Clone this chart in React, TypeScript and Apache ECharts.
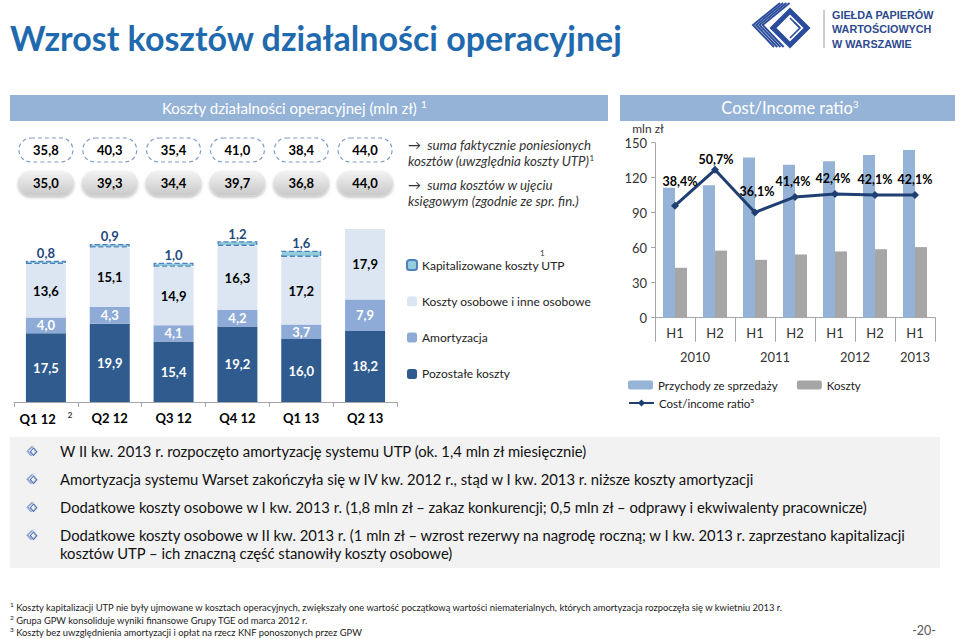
import React, { useEffect, useRef } from 'react';
import * as echarts from 'echarts';

// ---------- data ----------
const quarters = ['Q1 12', 'Q2 12', 'Q3 12', 'Q4 12', 'Q1 13', 'Q2 13'];
const pozostale = [17.5, 19.9, 15.4, 19.2, 16.0, 18.2];
const amortyzacja = [4.0, 4.3, 4.1, 4.2, 3.7, 7.9];
const osobowe = [13.6, 15.1, 14.9, 16.3, 17.2, 17.9];
const utp = [0.8, 0.9, 1.0, 1.2, 1.6, 0];
const sumaFaktyczna = [35.8, 40.3, 35.4, 41.0, 38.4, 44.0];
const sumaKsiegowa = [35.0, 39.3, 34.4, 39.7, 36.8, 44.0];

const halves = ['H1', 'H2', 'H1', 'H2', 'H1', 'H2', 'H1'];
const years = ['2010', '2011', '2012', '2013'];
const yearSpans = [2, 2, 2, 1];
const przychody = [111.4, 113.5, 137.4, 131.0, 134.0, 139.5, 143.8];
const koszty = [42.8, 57.5, 49.6, 54.2, 56.8, 58.7, 60.5];
const ratio = [38.4, 50.7, 36.1, 41.4, 42.4, 42.1, 42.1];
const ratioLabelOffsets = [[5, -9], [1, 5], [2, -5], [-2, 0], [-2, 0], [0, 0], [0, 0]];

const bullets = [
  'W II kw. 2013 r. rozpoczęto amortyzację systemu UTP (ok. 1,4 mln zł miesięcznie)',
  'Amortyzacja systemu Warset zakończyła się w IV kw. 2012 r., stąd w I kw. 2013 r. niższe koszty amortyzacji',
  'Dodatkowe koszty osobowe w I kw. 2013 r. (1,8 mln zł – zakaz konkurencji; 0,5 mln zł – odprawy i ekwiwalenty pracownicze)',
  'Dodatkowe koszty osobowe w II kw. 2013 r. (1 mln zł – wzrost rezerwy na nagrodę roczną; w I kw. 2013 r. zaprzestano kapitalizacji\nkosztów UTP – ich znaczną część stanowiły koszty osobowe)',
];
const footnotes = [
  ['1', 'Koszty kapitalizacji UTP nie były ujmowane w kosztach operacyjnych, zwiększały one wartość początkową wartości niematerialnych, których amortyzacja rozpoczęła się w kwietniu 2013 r.'],
  ['2', 'Grupa GPW konsoliduje wyniki finansowe Grupy TGE od marca 2012 r.'],
  ['3', 'Koszty bez uwzględnienia amortyzacji i opłat na rzecz KNF ponoszonych przez GPW'],
];

const FONT = 'Lato, "Noto Sans", sans-serif';
const fmt1 = (v: number) => v.toFixed(1).replace('.', ',');

const yearBounds: number[] = [0];
yearSpans.forEach((s) => yearBounds.push(yearBounds[yearBounds.length - 1] + s));
const yearCenters = yearSpans.map((s, i) => yearBounds[i] + s / 2);

function logoChildren(color: string) {
  const ch: any[] = [];
  for (let k = 0; k < 4; k++) {
    ch.push({
      type: 'polyline',
      shape: { points: [[30 + 3.2 * k, 1], [3 + 3.2 * k, 23], [24 + 3.2 * k, 45]] },
      style: { stroke: color, lineWidth: 1.9, fill: 'none' },
    });
  }
  ch.push({
    type: 'polygon',
    shape: { points: [[40, 9], [57, 26], [40, 43], [23, 26]] },
    style: { stroke: color, lineWidth: 5, fill: 'none' },
  });
  ch.push({
    type: 'polyline',
    shape: { points: [[40, 16], [50, 26], [40, 36]] },
    style: { stroke: color, lineWidth: 1.6, fill: 'none' },
  });
  ch.push({
    type: 'polyline',
    shape: { points: [[44, 20], [50, 26]] },
    style: { stroke: color, lineWidth: 1.4, fill: 'none' },
  });
  return ch;
}

export default function App() {
  const ref = useRef<HTMLDivElement>(null);
  useEffect(() => {
    const chart = echarts.init(ref.current!, null, { renderer: 'svg' });

    const boxData: any[] = [];
    sumaFaktyczna.forEach((v, i) => boxData.push([i, 1.5, 1, v]));
    sumaKsiegowa.forEach((v, i) => boxData.push([i, 0.5, 0, v]));

    const stackLabel = (color: string) => ({
      show: true,
      position: 'inside',
      color,
      fontFamily: FONT,
      fontWeight: 'bold',
      fontSize: 13,
      formatter: (p: any) => fmt1(p.value),
    });

    const bulletY = [451, 479, 507, 535];
    const graphics: any[] = [
      // title
      {
        type: 'text', left: 10, top: 20,
        style: { text: 'Wzrost kosztów działalności operacyjnej', font: `bold 34px ${FONT}`, fill: '#1F6AAE' },
      },
      // logo
      { type: 'group', x: 750, y: 2, children: logoChildren('#2B4C9B') },
      { type: 'line', shape: { x1: 824, y1: 10, x2: 824, y2: 48 }, style: { stroke: '#9A9A9A', lineWidth: 1 } },
      {
        type: 'text', x: 832, y: 8,
        style: {
          text: 'GIEŁDA PAPIERÓW\nWARTOŚCIOWYCH\nW WARSZAWIE',
          font: 'bold 10.8px "Liberation Sans", Arial, sans-serif', fill: '#2E4A8E', lineHeight: 14.3,
        },
      },
      // header bands
      { type: 'rect', shape: { x: 10, y: 95, width: 598, height: 26 }, style: { fill: '#95B3D7' } },
      {
        type: 'text', x: 162, y: 108,
        style: {
          text: 'Koszty działalności operacyjnej (mln zł) {s|1}', verticalAlign: 'middle',
          font: `15px ${FONT}`, fill: '#fff',
          rich: { s: { fontSize: 10, fill: '#fff', padding: [0, 0, 8, 0], fontFamily: FONT } },
        },
      },
      { type: 'rect', shape: { x: 620, y: 95, width: 335, height: 26 }, style: { fill: '#95B3D7' } },
      {
        type: 'text', x: 790, y: 108,
        style: {
          text: 'Cost/Income ratio{s|3}', align: 'center', verticalAlign: 'middle',
          font: `16.5px ${FONT}`, fill: '#fff',
          rich: { s: { fontSize: 10, fill: '#fff', padding: [0, 0, 8, 0], fontFamily: FONT } },
        },
      },
      // middle annotations
      {
        type: 'text', x: 408, y: 137,
        style: {
          text: '{a|→}  suma faktycznie poniesionych\nkosztów (uwzględnia koszty UTP){s|1}',
          font: `italic 13.3px ${FONT}`, fill: '#333', lineHeight: 16,
          rich: {
            a: { fontStyle: 'normal', fontSize: 13, fill: '#333', fontFamily: FONT },
            s: { fontSize: 8, fill: '#333', padding: [0, 0, 6, 0], fontFamily: FONT },
          },
        },
      },
      {
        type: 'text', x: 408, y: 177,
        style: {
          text: '{a|→}  suma kosztów w ujęciu\nksięgowym (zgodnie ze spr. fin.)',
          font: `italic 13.3px ${FONT}`, fill: '#333', lineHeight: 16,
          rich: { a: { fontStyle: 'normal', fontSize: 13, fill: '#333', fontFamily: FONT } },
        },
      },
      {
        type: 'text', x: 540, y: 249,
        style: { text: '1', font: `8px ${FONT}`, fill: '#333' },
      },
      // bottom box
      { type: 'rect', shape: { x: 10, y: 437, width: 930, height: 131 }, style: { fill: '#F2F2F2' } },
      // page number
      {
        type: 'text', x: 936, y: 630,
        style: { text: '-20-', align: 'right', verticalAlign: 'middle', font: `12.5px ${FONT}`, fill: '#595959' },
      },
    ];
    bullets.forEach((b, i) => {
      graphics.push({ type: 'group', x: 26, y: bulletY[i] - 5, scaleX: 0.19, scaleY: 0.22, children: logoChildren('#4A6DB5') });
      graphics.push({
        type: 'text', x: 60, y: bulletY[i],
        style: { text: b, verticalAlign: 'middle', font: `14.8px ${FONT}`, fill: '#111', lineHeight: 18 },
      });
    });
    graphics[graphics.length - 1].style.verticalAlign = 'top';
    graphics[graphics.length - 1].y = bulletY[3] - 9;

    const fnY = [607, 620, 632];
    footnotes.forEach(([n, t], i) => {
      graphics.push({
        type: 'text', x: 10, y: fnY[i],
        style: {
          text: `{s|${n}} ${t}`, verticalAlign: 'middle', font: `9.4px ${FONT}`, fill: '#222',
          rich: { s: { fontSize: 6.5, fill: '#222', padding: [0, 0, 5, 0], fontFamily: FONT } },
        },
      });
    });

    const option: any = {
      animation: false,
      textStyle: { fontFamily: FONT },
      grid: [
        { left: 14, top: 229, width: 383, height: 173 },
        { left: 14, top: 133.5, width: 383, height: 66 },
        { left: 655, top: 142.7, width: 280, height: 175 },
      ],
      xAxis: [
        {
          type: 'category', gridIndex: 0, data: quarters,
          axisLine: { lineStyle: { color: '#A6A6A6' } },
          axisTick: { show: true, length: 5, lineStyle: { color: '#A6A6A6' } },
          axisLabel: {
            color: '#000', fontWeight: 'bold', fontSize: 13, margin: 9, fontFamily: FONT, interval: 0,
            formatter: (v: string, i: number) => (i === 0 ? `${v}{s|2}` : v),
            rich: { s: { fontSize: 8, color: '#333', padding: [0, 0, 8, 12], fontFamily: FONT } },
          },
        },
        { type: 'category', gridIndex: 1, data: quarters, show: false },
        {
          type: 'category', gridIndex: 2, data: halves,
          axisLine: { lineStyle: { color: '#A6A6A6' } },
          axisTick: { show: true, length: 24, lineStyle: { color: '#A6A6A6' } },
          axisLabel: { color: '#333', fontSize: 13, margin: 9, fontFamily: FONT, interval: 0 },
        },
        {
          type: 'value', gridIndex: 2, min: 0, max: yearBounds[yearBounds.length - 1],
          position: 'bottom', offset: 24,
          axisLine: { show: false },
          splitLine: { show: false },
          axisTick: { show: true, length: 23, customValues: yearBounds, lineStyle: { color: '#A6A6A6' } },
          axisLabel: {
            color: '#333', fontSize: 13, margin: 9, fontFamily: FONT, customValues: yearCenters,
            formatter: (v: number) => {
              const idx = yearCenters.indexOf(v);
              return idx >= 0 ? years[idx] : '';
            },
          },
        },
      ],
      yAxis: [
        { type: 'value', gridIndex: 0, min: 0, max: 44, show: false },
        { type: 'value', gridIndex: 1, min: 0, max: 2, show: false },
        {
          type: 'value', gridIndex: 2, min: 0, max: 150, interval: 30,
          name: 'mln zł', nameLocation: 'end', nameGap: 8,
          nameTextStyle: { color: '#333', fontSize: 12, fontFamily: FONT, align: 'center', padding: [0, 14, 0, 0] },
          axisLine: { show: true, lineStyle: { color: '#A6A6A6' } },
          axisTick: { show: true, length: 4, lineStyle: { color: '#A6A6A6' } },
          splitLine: { show: false },
          axisLabel: { color: '#333', fontSize: 13, margin: 8, fontFamily: FONT },
        },
        { type: 'value', gridIndex: 2, min: 0, max: 60, show: false },
      ],
      legend: [
        {
          left: 401, top: 254, orient: 'vertical', itemGap: 24.3, itemWidth: 10, itemHeight: 10,
          data: ['Kapitalizowane koszty UTP', 'Koszty osobowe i inne osobowe', 'Amortyzacja', 'Pozostałe koszty'],
          textStyle: { color: '#222', fontSize: 12, fontFamily: FONT },
          selectedMode: false,
        },
        {
          left: 623, top: 374, itemGap: 19, itemWidth: 25, itemHeight: 9,
          data: ['Przychody ze sprzedaży', 'Koszty'],
          textStyle: { color: '#222', fontSize: 11.5, fontFamily: FONT },
          selectedMode: false,
        },
        {
          left: 623, top: 392, itemWidth: 25, itemHeight: 9,
          data: ['Cost/income ratio³'],
          textStyle: { color: '#222', fontSize: 11.5, fontFamily: FONT },
          selectedMode: false,
        },
      ],
      series: [
        {
          name: 'Pozostałe koszty', type: 'bar', stack: 'k', xAxisIndex: 0, yAxisIndex: 0, barWidth: 40,
          data: pozostale, itemStyle: { color: '#2F5B8F' }, label: stackLabel('#fff'),
        },
        {
          name: 'Amortyzacja', type: 'bar', stack: 'k', xAxisIndex: 0, yAxisIndex: 0, barWidth: 40,
          data: amortyzacja, itemStyle: { color: '#8EAAD6' }, label: stackLabel('#fff'),
        },
        {
          name: 'Koszty osobowe i inne osobowe', type: 'bar', stack: 'k', xAxisIndex: 0, yAxisIndex: 0, barWidth: 40,
          data: osobowe, itemStyle: { color: '#DCE6F2' }, label: stackLabel('#000'),
        },
        {
          name: 'Kapitalizowane koszty UTP', type: 'bar', stack: 'k', xAxisIndex: 0, yAxisIndex: 0, barWidth: 40,
          data: utp.map((v) => (v > 0 ? v : '-')),
          itemStyle: { color: '#93CDDD', borderColor: '#4F81BD', borderWidth: 1.3, borderType: 'dashed' },
          label: {
            show: true, position: 'top', distance: 1, color: '#1F497D', fontWeight: 'bold', fontSize: 13, fontFamily: FONT,
            formatter: (p: any) => (p.value > 0 ? fmt1(p.value) : ''),
          },
        },
        {
          name: 'boxes', type: 'custom', xAxisIndex: 1, yAxisIndex: 1, data: boxData, silent: true,
          renderItem: (params: any, api: any) => {
            const p = api.coord([api.value(0), api.value(1)]);
            const dashed = api.value(2) === 1;
            const val = api.value(3) as number;
            const rect = dashed
              ? {
                  type: 'rect',
                  shape: { x: p[0] - 27, y: p[1] - 12, width: 54, height: 24, r: 12 },
                  style: { fill: '#fff', stroke: '#7F9CC4', lineWidth: 1.2, lineDash: [4, 3] },
                }
              : {
                  type: 'rect',
                  shape: { x: p[0] - 28, y: p[1] - 12.5, width: 56, height: 25, r: 12.5 },
                  style: {
                    fill: new echarts.graphic.LinearGradient(0, 0, 0, 1, [
                      { offset: 0, color: '#F4F4F4' },
                      { offset: 1, color: '#C9C9C9' },
                    ]),
                    shadowBlur: 3, shadowOffsetY: 2, shadowColor: 'rgba(0,0,0,0.25)',
                  },
                };
            return {
              type: 'group',
              children: [
                rect,
                {
                  type: 'text',
                  style: {
                    text: fmt1(val), x: p[0], y: p[1], align: 'center', verticalAlign: 'middle',
                    font: `bold 13px ${FONT}`, fill: '#000',
                  },
                },
              ],
            };
          },
        },
        {
          name: 'Przychody ze sprzedaży', type: 'bar', xAxisIndex: 2, yAxisIndex: 2, barWidth: 12, barGap: '0%',
          data: przychody, itemStyle: { color: '#95B3D7' },
        },
        {
          name: 'Koszty', type: 'bar', xAxisIndex: 2, yAxisIndex: 2, barWidth: 12, barGap: '0%',
          data: koszty, itemStyle: { color: '#A6A6A6' },
        },
        {
          name: 'Cost/income ratio³', type: 'line', xAxisIndex: 2, yAxisIndex: 3,
          data: ratio.map((v, i) => ({ value: v, label: { offset: ratioLabelOffsets[i] } })),
          lineStyle: { color: '#1F3F73', width: 3 },
          itemStyle: { color: '#1F3F73' },
          symbol: 'diamond', symbolSize: 8,
          label: {
            show: true, position: 'top', color: '#000', fontWeight: 'bold', fontSize: 12.5, fontFamily: FONT,
            formatter: (p: any) => `${fmt1(p.value)}%`,
          },
          z: 5,
        },
      ],
      graphic: { elements: graphics },
    };
    chart.setOption(option);
    return () => chart.dispose();
  }, []);
  return (
    <div
      ref={ref}
      style={{ position: 'fixed', left: 0, top: 0, width: 960, height: 639, background: '#fff' }}
    />
  );
}
